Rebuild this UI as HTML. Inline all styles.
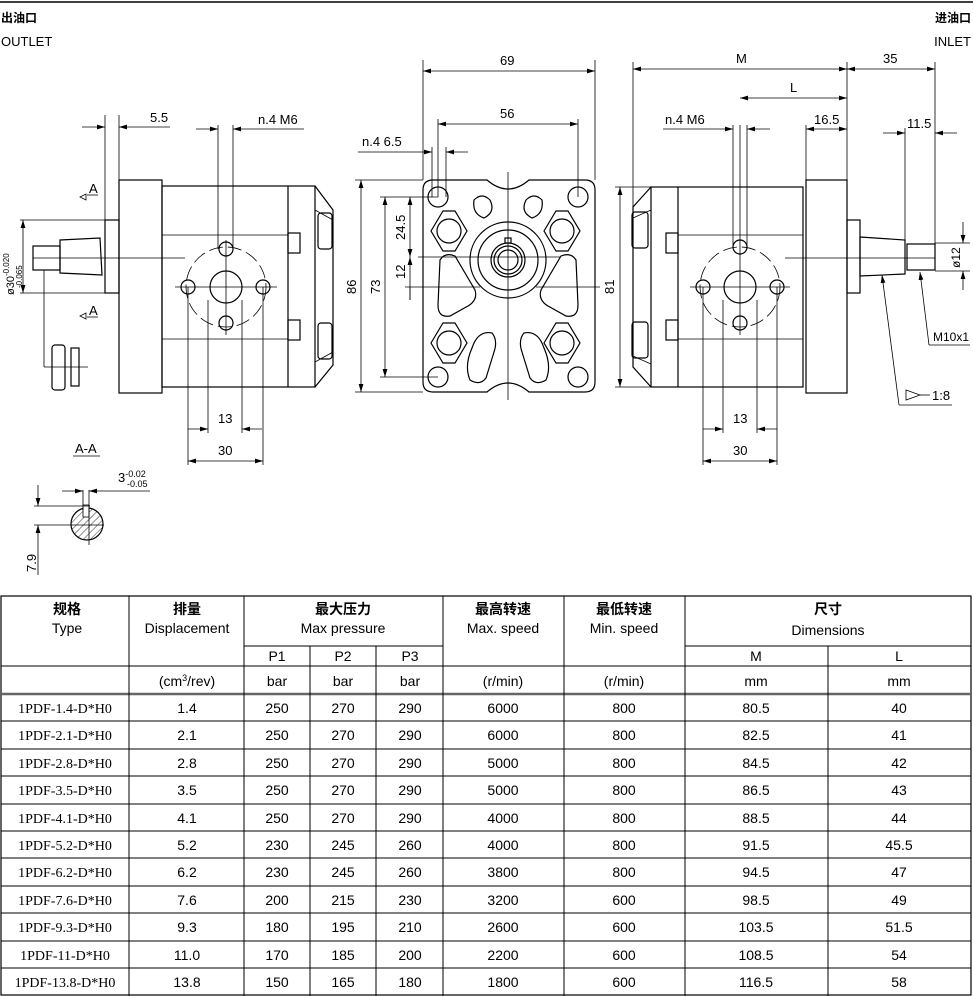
<!DOCTYPE html>
<html><head><meta charset="utf-8"><style>
html,body{margin:0;padding:0;background:#fff;}
svg{display:block;font-family:"Liberation Sans","Noto Sans CJK SC",sans-serif;}
.l{stroke:#000;stroke-width:1.2;fill:none}
.t{stroke:#000;stroke-width:0.8;fill:none}
.d{stroke:#000;stroke-width:0.8;fill:none;stroke-dasharray:14 5}
text{font-size:13px;fill:#000}
.tb text{font-size:14px}
.sr{font-family:"Liberation Serif","Noto Serif CJK SC",serif;font-size:13px}
.cj{font-weight:bold;font-size:12px}
</style></head><body>
<svg width="973" height="996" viewBox="0 0 973 996" xmlns="http://www.w3.org/2000/svg">
<defs>
<marker id="a" viewBox="0 0 10 6" refX="10" refY="3" markerWidth="10" markerHeight="6" orient="auto-start-reverse"><path d="M0,0L10,3L0,6z" fill="#000"/></marker>
<pattern id="h" width="5" height="5" patternUnits="userSpaceOnUse" patternTransform="rotate(45)"><line x1="0" y1="0" x2="0" y2="5" stroke="#000" stroke-width="0.8"/></pattern>
</defs>
<line x1="0" y1="2" x2="973" y2="2" stroke="#000" stroke-width="1.5"/>
<text x="1" y="22" class="cj">出油口</text>
<text x="1" y="46">OUTLET</text>
<text x="971" y="22" class="cj" text-anchor="end">进油口</text>
<text x="971" y="46" text-anchor="end">INLET</text>

<!-- LEFT VIEW -->
<g>
<rect class="l" x="119" y="180" width="43" height="213"/>
<rect class="l" x="162" y="186" width="153" height="201"/>
<line class="l" x1="288" y1="186" x2="288" y2="387"/>
<line class="t" x1="162" y1="235" x2="288" y2="235"/>
<line class="t" x1="162" y1="339" x2="288" y2="339"/>
<rect class="l" x="288" y="233" width="12" height="20"/>
<rect class="l" x="288" y="320" width="12" height="20"/>
<path class="l" d="M315,186 L333,210 L333,365 L315,387"/>
<path class="t" d="M315,210 L333,220 M315,362 L333,352"/>
<rect class="l" x="318" y="213" width="14" height="36" rx="3"/>
<rect class="l" x="318" y="323" width="14" height="36" rx="3"/>
<rect class="l" x="105" y="220" width="14" height="73"/>
<path class="l" d="M60,240 L100,238 L102,275 L60,273 Z"/>
<rect class="l" x="33" y="246" width="27" height="24"/>
<line class="t" x1="33" y1="258" x2="185" y2="258"/>
<circle class="l" cx="226" cy="287" r="16"/>
<circle class="d" cx="226" cy="287" r="40"/>
<circle class="l" cx="226" cy="249" r="7"/><circle class="l" cx="188" cy="287" r="7"/>
<circle class="l" cx="263" cy="287" r="7"/><circle class="l" cx="226" cy="323" r="7"/>
<line class="t" x1="175" y1="287" x2="277" y2="287"/>
<line class="t" x1="226" y1="240" x2="226" y2="335"/>
<!-- dims -->
<line class="t" x1="105" y1="115" x2="105" y2="220"/><line class="t" x1="119" y1="115" x2="119" y2="180"/>
<line class="t" x1="82" y1="127" x2="105" y2="127" marker-end="url(#a)"/>
<line class="t" x1="170" y1="127" x2="119" y2="127" marker-end="url(#a)"/>
<text x="150" y="122">5.5</text>
<line class="t" x1="218" y1="125" x2="218" y2="249"/><line class="t" x1="233" y1="125" x2="233" y2="249"/>
<line class="t" x1="196" y1="129" x2="218" y2="129" marker-end="url(#a)"/>
<line class="t" x1="304" y1="129" x2="233" y2="129" marker-end="url(#a)"/>
<text x="258" y="124">n.4  M6</text>
<line class="t" x1="188" y1="287" x2="188" y2="465"/><line class="t" x1="263" y1="287" x2="263" y2="465"/>
<line class="t" x1="208" y1="300" x2="208" y2="433"/><line class="t" x1="242" y1="300" x2="242" y2="433"/>
<line class="t" x1="188" y1="429" x2="208" y2="429" marker-end="url(#a)"/>
<line class="t" x1="262" y1="429" x2="242" y2="429" marker-end="url(#a)"/>
<text x="218" y="423">13</text>
<line class="t" x1="188" y1="461" x2="263" y2="461" marker-start="url(#a)" marker-end="url(#a)"/>
<text x="218" y="455">30</text>
<line class="t" x1="20" y1="220" x2="105" y2="220"/><line class="t" x1="20" y1="293" x2="105" y2="293"/>
<line class="t" x1="23" y1="220" x2="23" y2="293" marker-start="url(#a)" marker-end="url(#a)"/>
<text transform="translate(14,295) rotate(-90)" style="font-size:11px">ø30<tspan dy="-5" style="font-size:8px">-0.020</tspan></text>
<text transform="translate(22,288) rotate(-90)" style="font-size:8px">-0.065</text>
<text x="89" y="193">A</text><line class="t" x1="87" y1="195" x2="98" y2="195"/><path d="M80,197 L86,194 L86,200 Z" fill="none" stroke="#000" stroke-width="0.8"/>
<text x="89" y="315">A</text><line class="t" x1="87" y1="317" x2="98" y2="317"/><path d="M80,316 L86,313 L86,319 Z" fill="none" stroke="#000" stroke-width="0.8"/>
<line class="t" x1="44" y1="270" x2="44" y2="367"/><line class="t" x1="44" y1="367" x2="88" y2="367"/>
<rect class="l" x="52" y="345" width="13" height="45" rx="3"/>
<rect class="l" x="71" y="348" width="8" height="38"/>
<!-- A-A -->
<text x="75" y="453">A-A</text><line class="t" x1="73" y1="456" x2="100" y2="456"/>
<circle cx="87" cy="524" r="16" fill="url(#h)" stroke="#000" stroke-width="1.2"/>
<rect x="83" y="505" width="6" height="12" fill="#fff" stroke="#000" stroke-width="0.8"/>
<line class="t" x1="83" y1="490" x2="83" y2="510"/><line class="t" x1="89" y1="490" x2="89" y2="545"/>
<line class="t" x1="62" y1="491" x2="83" y2="491" marker-end="url(#a)"/>
<line class="t" x1="150" y1="491" x2="89" y2="491" marker-end="url(#a)"/>
<text x="118" y="482">3<tspan dy="-5" style="font-size:9px">-0.02</tspan></text><text x="127" y="487" style="font-size:9px">-0.05</text>
<line class="t" x1="34" y1="506" x2="90" y2="506"/><line class="t" x1="34" y1="525" x2="104" y2="525"/>
<line class="t" x1="38" y1="485" x2="38" y2="506" marker-end="url(#a)"/>
<line class="t" x1="38" y1="575" x2="38" y2="525" marker-end="url(#a)"/>
<text transform="translate(36,572) rotate(-90)">7.9</text>
</g>

<!-- MIDDLE VIEW -->
<g>
<path class="l" d="M433,180 H487 Q508,198 529,180 H585 Q595,180 595,190 V382 Q595,392 585,392 H529 Q508,374 487,392 H433 Q423,392 423,382 V190 Q423,180 433,180 Z"/>
<circle class="l" cx="438" cy="197" r="10"/><circle class="l" cx="578" cy="197" r="10"/>
<circle class="l" cx="438" cy="377" r="10"/><circle class="l" cx="578" cy="377" r="10"/>
<path class="l" d="M437,231 L449,211 L461,211 L473,231 L461,251 L449,251 Z" transform="translate(-6,0)"/>
<circle class="l" cx="449" cy="231" r="12"/>
<path class="l" d="M550,231 L562,211 L574,211 L586,231 L574,251 L562,251 Z" transform="translate(-6,0)"/>
<circle class="l" cx="562" cy="231" r="12"/>
<path class="l" d="M437,343 L449,323 L461,323 L473,343 L461,363 L449,363 Z" transform="translate(-6,0)"/>
<circle class="l" cx="449" cy="343" r="12"/>
<path class="l" d="M550,343 L562,323 L574,323 L586,343 L574,363 L562,363 Z" transform="translate(-6,0)"/>
<circle class="l" cx="562" cy="343" r="12"/>
<circle class="l" cx="508" cy="260" r="38"/><circle class="l" cx="508" cy="260" r="30"/>
<circle class="l" cx="508" cy="260" r="17"/><circle class="l" cx="508" cy="260" r="14"/><circle class="l" cx="508" cy="260" r="10"/>
<rect class="l" x="505" y="238" width="6" height="5"/>
<path class="l" d="M474,200 Q482,192 490,200 Q496,212 484,218 Q472,214 474,200Z"/>
<path class="l" d="M542,200 Q534,192 526,200 Q520,212 532,218 Q544,214 542,200Z"/>
<path class="l" d="M440,260 Q445,252 455,256 L475,290 Q478,300 468,306 L450,316 Q438,318 438,305 Z"/>
<path class="l" d="M576,260 Q571,252 561,256 L541,290 Q538,300 548,306 L566,316 Q578,318 578,305 Z"/>
<path class="l" d="M472,348 Q478,330 492,333 Q498,340 494,352 L486,378 Q480,386 470,380 Q464,366 472,348Z"/>
<path class="l" d="M544,348 Q538,330 524,333 Q518,340 522,352 L530,378 Q536,386 546,380 Q552,366 544,348Z"/>
<line class="t" x1="508" y1="172" x2="508" y2="400"/>
<line class="t" x1="418" y1="257" x2="560" y2="257"/>
<line class="t" x1="405" y1="287" x2="480" y2="287"/><line class="t" x1="536" y1="287" x2="600" y2="287"/>
<line class="t" x1="423" y1="60" x2="423" y2="180"/><line class="t" x1="595" y1="60" x2="595" y2="180"/>
<line class="t" x1="423" y1="71" x2="595" y2="71" marker-start="url(#a)" marker-end="url(#a)"/>
<text x="500" y="65">69</text>
<line class="t" x1="438" y1="119" x2="438" y2="197"/><line class="t" x1="578" y1="119" x2="578" y2="197"/>
<line class="t" x1="438" y1="124" x2="578" y2="124" marker-start="url(#a)" marker-end="url(#a)"/>
<text x="500" y="118">56</text>
<line class="t" x1="432" y1="147" x2="432" y2="197"/><line class="t" x1="446" y1="147" x2="446" y2="197"/>
<line class="t" x1="358" y1="152" x2="432" y2="152" marker-end="url(#a)"/>
<line class="t" x1="468" y1="152" x2="446" y2="152" marker-end="url(#a)"/>
<text x="362" y="146">n.4  6.5</text>
<line class="t" x1="355" y1="180" x2="423" y2="180"/><line class="t" x1="355" y1="392" x2="423" y2="392"/>
<line class="t" x1="361" y1="180" x2="361" y2="392" marker-start="url(#a)" marker-end="url(#a)"/>
<text transform="translate(356,294) rotate(-90)">86</text>
<line class="t" x1="380" y1="197" x2="438" y2="197"/><line class="t" x1="380" y1="377" x2="438" y2="377"/>
<line class="t" x1="385" y1="197" x2="385" y2="377" marker-start="url(#a)" marker-end="url(#a)"/>
<text transform="translate(380,294) rotate(-90)">73</text>
<line class="t" x1="410" y1="197" x2="410" y2="257" marker-start="url(#a)" marker-end="url(#a)"/>
<text transform="translate(405,240) rotate(-90)">24.5</text>
<line class="t" x1="410" y1="257" x2="410" y2="300" marker-start="url(#a)"/>
<line class="t" x1="410" y1="287" x2="410" y2="300"/>
<text transform="translate(405,279) rotate(-90)">12</text>
</g>

<!-- RIGHT VIEW -->
<g>
<rect class="l" x="651" y="187" width="152" height="200"/>
<line class="l" x1="678" y1="187" x2="678" y2="387"/>
<path class="l" d="M651,187 L633,207 L633,367 L651,387"/>
<path class="t" d="M633,218 L651,210 M633,356 L651,364"/>
<rect class="l" x="632" y="212" width="16" height="36" rx="3"/>
<rect class="l" x="632" y="322" width="16" height="36" rx="3"/>
<rect class="l" x="666" y="233" width="12" height="20"/><rect class="l" x="666" y="320" width="12" height="20"/>
<line class="t" x1="678" y1="235" x2="803" y2="235"/><line class="t" x1="678" y1="339" x2="803" y2="339"/>
<rect class="l" x="806" y="180" width="41" height="213"/>
<rect class="l" x="847" y="220" width="13" height="73"/>
<path class="l" d="M860,237 L905,240 L905,274 L860,276 Z"/>
<rect class="l" x="907" y="244" width="28" height="26"/>
<line class="t" x1="785" y1="258" x2="935" y2="258"/>
<circle class="l" cx="740" cy="287" r="16"/>
<circle class="d" cx="740" cy="287" r="40"/>
<circle class="l" cx="740" cy="247" r="7"/><circle class="l" cx="703" cy="287" r="7"/>
<circle class="l" cx="777" cy="287" r="7"/><circle class="l" cx="740" cy="323" r="7"/>
<line class="t" x1="690" y1="287" x2="790" y2="287"/><line class="t" x1="740" y1="125" x2="740" y2="335"/>
<line class="t" x1="633" y1="62" x2="633" y2="207"/><line class="t" x1="847" y1="62" x2="847" y2="180"/><line class="t" x1="935" y1="62" x2="935" y2="244"/>
<line class="t" x1="633" y1="69" x2="847" y2="69" marker-start="url(#a)" marker-end="url(#a)"/>
<text x="736" y="63">M</text>
<line class="t" x1="847" y1="69" x2="935" y2="69" marker-start="url(#a)" marker-end="url(#a)"/>
<text x="883" y="63">35</text>
<line class="t" x1="740" y1="98" x2="847" y2="98" marker-start="url(#a)" marker-end="url(#a)"/>
<text x="790" y="92">L</text>
<line class="t" x1="806" y1="125" x2="806" y2="180"/>
<line class="t" x1="806" y1="129" x2="847" y2="129" marker-start="url(#a)" marker-end="url(#a)"/>
<text x="814" y="124">16.5</text>
<line class="t" x1="733" y1="125" x2="733" y2="247"/><line class="t" x1="747" y1="125" x2="747" y2="247"/>
<line class="t" x1="663" y1="129" x2="733" y2="129" marker-end="url(#a)"/>
<line class="t" x1="770" y1="129" x2="747" y2="129" marker-end="url(#a)"/>
<text x="665" y="124">n.4  M6</text>
<line class="t" x1="905" y1="128" x2="905" y2="244"/>
<line class="t" x1="883" y1="133" x2="905" y2="133" marker-end="url(#a)"/>
<line class="t" x1="957" y1="133" x2="935" y2="133" marker-end="url(#a)"/>
<text x="907" y="128">11.5</text>
<line class="t" x1="615" y1="187" x2="651" y2="187"/><line class="t" x1="615" y1="387" x2="651" y2="387"/>
<line class="t" x1="620" y1="187" x2="620" y2="387" marker-start="url(#a)" marker-end="url(#a)"/>
<text transform="translate(614,294) rotate(-90)">81</text>
<line class="t" x1="703" y1="287" x2="703" y2="465"/><line class="t" x1="777" y1="287" x2="777" y2="465"/>
<line class="t" x1="723" y1="300" x2="723" y2="433"/><line class="t" x1="757" y1="300" x2="757" y2="433"/>
<line class="t" x1="703" y1="429" x2="723" y2="429" marker-end="url(#a)"/>
<line class="t" x1="777" y1="429" x2="757" y2="429" marker-end="url(#a)"/>
<text x="733" y="423">13</text>
<line class="t" x1="703" y1="461" x2="777" y2="461" marker-start="url(#a)" marker-end="url(#a)"/>
<text x="733" y="455">30</text>
<line class="t" x1="935" y1="243" x2="970" y2="243"/><line class="t" x1="935" y1="271" x2="970" y2="271"/>
<line class="t" x1="963" y1="222" x2="963" y2="243" marker-end="url(#a)"/>
<line class="t" x1="963" y1="290" x2="963" y2="271" marker-end="url(#a)"/>
<text transform="translate(960,268) rotate(-90)" style="font-size:12px">ø12</text>
<line class="t" x1="920" y1="272" x2="929" y2="345" marker-start="url(#a)"/>
<line class="t" x1="929" y1="345" x2="970" y2="345"/>
<text x="933" y="341" style="font-size:12px">M10x1</text>
<line class="t" x1="882" y1="275" x2="899" y2="405" marker-start="url(#a)"/>
<line class="t" x1="899" y1="405" x2="952" y2="405"/>
<path class="t" d="M906,390 L920,395 L906,400 Z"/><line class="t" x1="920" y1="395" x2="930" y2="395"/>
<text x="932" y="400">1:8</text>
</g>

<!-- TABLE -->
<g class="tb">
<rect x="1" y="596" width="970" height="399" fill="none" stroke="#000" stroke-width="1.2"/>
<g stroke="#000" stroke-width="1">
<line x1="1" y1="666" x2="971" y2="666"/>
<line x1="244" y1="646" x2="443" y2="646"/><line x1="685" y1="646" x2="971" y2="646"/>
<line x1="1" y1="694" x2="971" y2="694" stroke-width="2.5" stroke="#666"/>
<line x1="1" y1="721" x2="971" y2="721"/><line x1="1" y1="749" x2="971" y2="749"/>
<line x1="1" y1="776" x2="971" y2="776"/><line x1="1" y1="804" x2="971" y2="804"/>
<line x1="1" y1="831" x2="971" y2="831"/><line x1="1" y1="858" x2="971" y2="858"/>
<line x1="1" y1="886" x2="971" y2="886"/><line x1="1" y1="913" x2="971" y2="913"/>
<line x1="1" y1="941" x2="971" y2="941"/><line x1="1" y1="968" x2="971" y2="968"/>
<line x1="129" y1="596" x2="129" y2="996"/><line x1="244" y1="596" x2="244" y2="996"/>
<line x1="443" y1="596" x2="443" y2="996"/><line x1="564" y1="596" x2="564" y2="996"/>
<line x1="685" y1="596" x2="685" y2="996"/>
<line x1="310" y1="646" x2="310" y2="996"/><line x1="376" y1="646" x2="376" y2="996"/>
<line x1="828" y1="646" x2="828" y2="996"/>
</g>
<g text-anchor="middle">
<text x="67" y="614" class="cj">规格</text><text x="67" y="633">Type</text>
<text x="187" y="614" class="cj">排量</text><text x="187" y="633">Displacement</text>
<text x="343" y="614" class="cj">最大压力</text><text x="343" y="633">Max pressure</text>
<text x="503" y="614" class="cj">最高转速</text><text x="503" y="633">Max. speed</text>
<text x="624" y="614" class="cj">最低转速</text><text x="624" y="633">Min. speed</text>
<text x="828" y="614" class="cj">尺寸</text><text x="828" y="635">Dimensions</text>
<text x="277" y="661">P1</text><text x="343" y="661">P2</text><text x="410" y="661">P3</text>
<text x="756" y="661">M</text><text x="899" y="661">L</text>
<text x="187" y="686">(cm<tspan dy="-5" style="font-size:9px">3</tspan><tspan dy="5">/rev)</tspan></text>
<text x="277" y="686">bar</text><text x="343" y="686">bar</text><text x="410" y="686">bar</text>
<text x="503" y="686">(r/min)</text><text x="624" y="686">(r/min)</text>
<text x="756" y="686">mm</text><text x="899" y="686">mm</text>
</g>
<g text-anchor="middle">
<text x="65" y="713" class="sr">1PDF-1.4-D*H0</text><text x="187" y="713">1.4</text><text x="277" y="713">250</text><text x="343" y="713">270</text><text x="410" y="713">290</text><text x="503" y="713">6000</text><text x="624" y="713">800</text><text x="756" y="713">80.5</text><text x="899" y="713">40</text>
<text x="65" y="740" class="sr">1PDF-2.1-D*H0</text><text x="187" y="740">2.1</text><text x="277" y="740">250</text><text x="343" y="740">270</text><text x="410" y="740">290</text><text x="503" y="740">6000</text><text x="624" y="740">800</text><text x="756" y="740">82.5</text><text x="899" y="740">41</text>
<text x="65" y="768" class="sr">1PDF-2.8-D*H0</text><text x="187" y="768">2.8</text><text x="277" y="768">250</text><text x="343" y="768">270</text><text x="410" y="768">290</text><text x="503" y="768">5000</text><text x="624" y="768">800</text><text x="756" y="768">84.5</text><text x="899" y="768">42</text>
<text x="65" y="795" class="sr">1PDF-3.5-D*H0</text><text x="187" y="795">3.5</text><text x="277" y="795">250</text><text x="343" y="795">270</text><text x="410" y="795">290</text><text x="503" y="795">5000</text><text x="624" y="795">800</text><text x="756" y="795">86.5</text><text x="899" y="795">43</text>
<text x="65" y="823" class="sr">1PDF-4.1-D*H0</text><text x="187" y="823">4.1</text><text x="277" y="823">250</text><text x="343" y="823">270</text><text x="410" y="823">290</text><text x="503" y="823">4000</text><text x="624" y="823">800</text><text x="756" y="823">88.5</text><text x="899" y="823">44</text>
<text x="65" y="850" class="sr">1PDF-5.2-D*H0</text><text x="187" y="850">5.2</text><text x="277" y="850">230</text><text x="343" y="850">245</text><text x="410" y="850">260</text><text x="503" y="850">4000</text><text x="624" y="850">800</text><text x="756" y="850">91.5</text><text x="899" y="850">45.5</text>
<text x="65" y="877" class="sr">1PDF-6.2-D*H0</text><text x="187" y="877">6.2</text><text x="277" y="877">230</text><text x="343" y="877">245</text><text x="410" y="877">260</text><text x="503" y="877">3800</text><text x="624" y="877">800</text><text x="756" y="877">94.5</text><text x="899" y="877">47</text>
<text x="65" y="905" class="sr">1PDF-7.6-D*H0</text><text x="187" y="905">7.6</text><text x="277" y="905">200</text><text x="343" y="905">215</text><text x="410" y="905">230</text><text x="503" y="905">3200</text><text x="624" y="905">600</text><text x="756" y="905">98.5</text><text x="899" y="905">49</text>
<text x="65" y="932" class="sr">1PDF-9.3-D*H0</text><text x="187" y="932">9.3</text><text x="277" y="932">180</text><text x="343" y="932">195</text><text x="410" y="932">210</text><text x="503" y="932">2600</text><text x="624" y="932">600</text><text x="756" y="932">103.5</text><text x="899" y="932">51.5</text>
<text x="65" y="960" class="sr">1PDF-11-D*H0</text><text x="187" y="960">11.0</text><text x="277" y="960">170</text><text x="343" y="960">185</text><text x="410" y="960">200</text><text x="503" y="960">2200</text><text x="624" y="960">600</text><text x="756" y="960">108.5</text><text x="899" y="960">54</text>
<text x="65" y="987" class="sr">1PDF-13.8-D*H0</text><text x="187" y="987">13.8</text><text x="277" y="987">150</text><text x="343" y="987">165</text><text x="410" y="987">180</text><text x="503" y="987">1800</text><text x="624" y="987">600</text><text x="756" y="987">116.5</text><text x="899" y="987">58</text>
</g>
</g>
</svg>
</body></html>
